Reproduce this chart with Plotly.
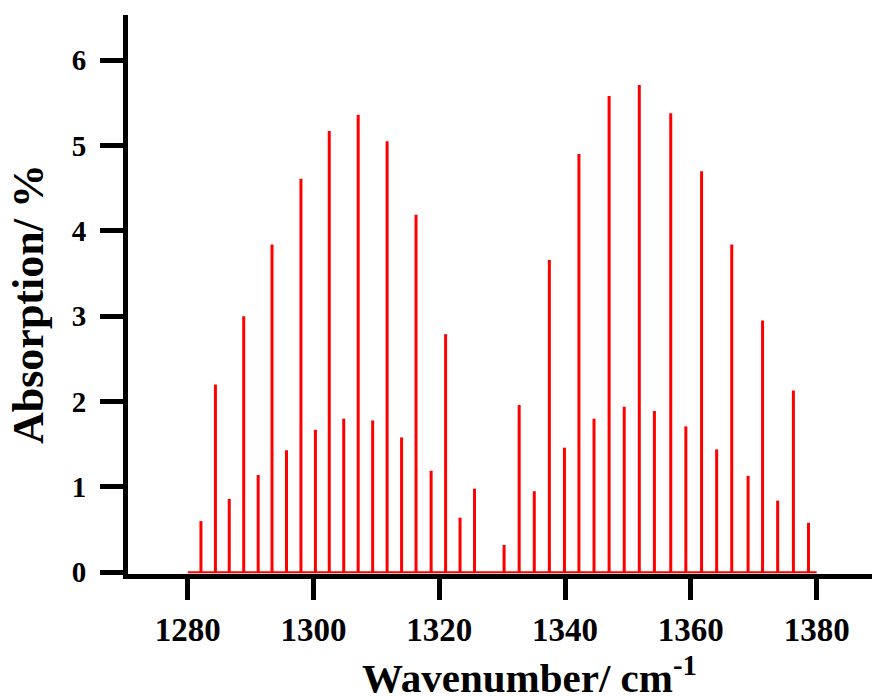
import plotly.graph_objects as go

# Stick positions (cm^-1) and absorption (%)
wavenumber = [
    1282.1, 1284.4, 1286.6, 1288.9, 1291.2, 1293.4, 1295.7, 1298.0, 1300.3, 1302.5,
    1304.8, 1307.1, 1309.4, 1311.7, 1314.0, 1316.3, 1318.7, 1321.0, 1323.3, 1325.6,
    1330.3, 1332.7, 1335.1, 1337.5, 1339.9, 1342.2, 1344.6, 1347.0, 1349.4, 1351.8,
    1354.2, 1356.8, 1359.2, 1361.7, 1364.1, 1366.5, 1369.1, 1371.4, 1373.8, 1376.3,
    1378.7,
]
absorption = [
    0.60, 2.20, 0.86, 3.00, 1.14, 3.84, 1.43, 4.61, 1.67, 5.17,
    1.80, 5.36, 1.78, 5.05, 1.58, 4.19, 1.19, 2.79, 0.64, 0.98,
    0.32, 1.96, 0.95, 3.66, 1.46, 4.90, 1.80, 5.58, 1.94, 5.71,
    1.89, 5.38, 1.71, 4.70, 1.44, 3.84, 1.13, 2.95, 0.84, 2.13,
    0.58,
]
baseline_x = [1280, 1380]
baseline_y = [0, 0]
x_ticks = [1280, 1300, 1320, 1340, 1360, 1380]
y_ticks = [0, 1, 2, 3, 4, 5, 6]

xs, ys = [], []
for w, a in zip(wavenumber, absorption):
    xs += [w, w, None]
    ys += [0, a, None]

fig = go.Figure()
fig.add_trace(go.Scatter(x=baseline_x, y=baseline_y, mode="lines",
                         line=dict(color="#ff0000", width=2), hoverinfo="skip"))
fig.add_trace(go.Scatter(x=xs, y=ys, mode="lines",
                         line=dict(color="#ff0000", width=3)))

font_family = "Liberation Serif, Times New Roman, serif"
fig.update_layout(
    width=872, height=696,
    margin=dict(l=128, r=0, t=15, b=122),
    paper_bgcolor="white", plot_bgcolor="white",
    showlegend=False,
    font=dict(family=font_family, color="black"),
    xaxis=dict(
        range=[1270.5, 1388.8], tickvals=x_ticks, ticks="outside", ticklen=21,
        tickwidth=5, tickcolor="black", showline=True, linewidth=5,
        linecolor="black", showgrid=False, zeroline=False,
        tickfont=dict(size=33, family=font_family, weight="bold"),
        ticklabelstandoff=1,
    ),
    yaxis=dict(
        range=[-0.02, 6.53], tickvals=y_ticks, ticks="outside", ticklen=23,
        tickwidth=5, tickcolor="black", showline=True, linewidth=5,
        linecolor="black", showgrid=False, zeroline=False,
        tickfont=dict(size=29, family=font_family, weight="bold"),
        ticklabelstandoff=8,
    ),
    annotations=[
        dict(
            text="Wavenumber/ cm<sup>-1</sup>", xref="paper", yref="paper",
            x=0.54, y=0, yshift=-101, xanchor="center", yanchor="middle", showarrow=False,
            font=dict(size=41, family=font_family, weight="bold", color="black"),
        ),
        dict(
            text="Absorption/ %", xref="paper", yref="paper", textangle=-90,
            x=0, xshift=-100, y=0.483, xanchor="center", yanchor="middle", showarrow=False,
            font=dict(size=44, family=font_family, weight="bold", color="black"),
        ),
    ],
)

fig.write_html("out.html")
